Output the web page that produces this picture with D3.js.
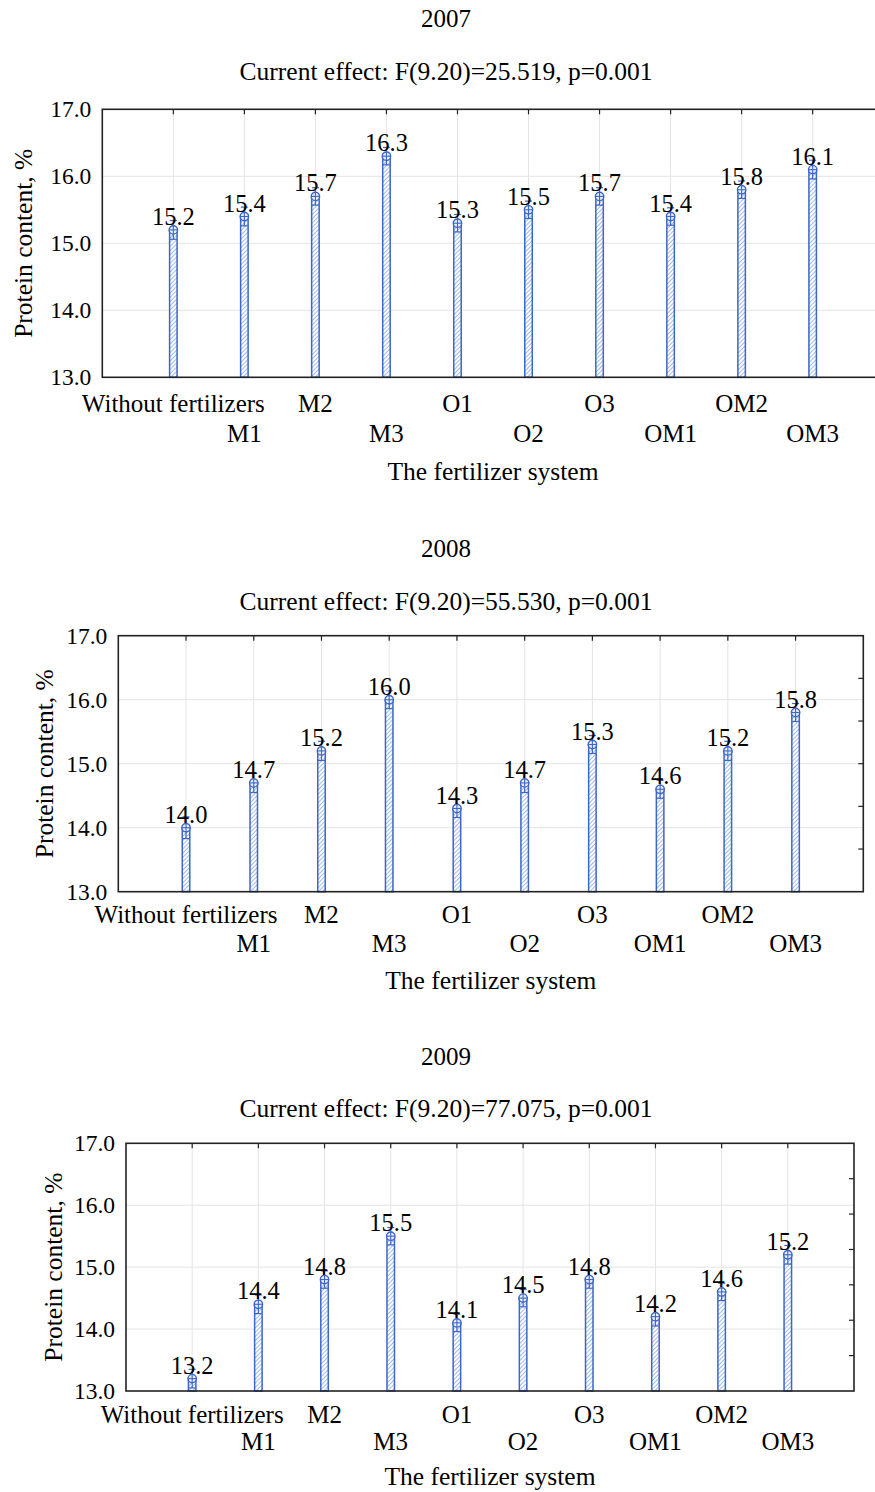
<!DOCTYPE html>
<html>
<head>
<meta charset="utf-8">
<script src="https://cdn.jsdelivr.net/npm/d3@7"></script>
<style>
  body { margin: 0; background: #fff; }
  svg { display: block; }
  svg text { font-family: "Liberation Serif", "Times New Roman", "DejaVu Serif", serif; fill: #000; }
</style>
</head>
<body>
<svg id="chart" width="875" height="1492"></svg>
<script>
// data
var years = ['2007', '2008', '2009'];
var subtitles = [
  'Current effect: F(9.20)=25.519, p=0.001',
  'Current effect: F(9.20)=55.530, p=0.001',
  'Current effect: F(9.20)=77.075, p=0.001'
];
var categories = ['Without fertilizers', 'M1', 'M2', 'M3', 'O1', 'O2', 'O3', 'OM1', 'OM2', 'OM3'];
var protein2007 = [15.2, 15.4, 15.7, 16.3, 15.3, 15.5, 15.7, 15.4, 15.8, 16.1];
var protein2008 = [14.0, 14.7, 15.2, 16.0, 14.3, 14.7, 15.3, 14.6, 15.2, 15.8];
var protein2009 = [13.2, 14.4, 14.8, 15.5, 14.1, 14.5, 14.8, 14.2, 14.6, 15.2];
var err2007 = [0.14, 0.14, 0.13, 0.13, 0.13, 0.13, 0.13, 0.13, 0.13, 0.14];
var err2008 = [0.17, 0.15, 0.15, 0.14, 0.14, 0.15, 0.14, 0.14, 0.15, 0.14];
var err2009 = [0.15, 0.15, 0.14, 0.14, 0.14, 0.14, 0.14, 0.15, 0.14, 0.15];
var yTicks = [13, 14, 15, 16, 17];

var series = [protein2007, protein2008, protein2009];
var errors = [err2007, err2008, err2009];

// panel layout
var panels = [
  { left: 102.3, right: 883.7, top: 109.3, bottom: 377.3, titleY: 27, subY: 80, yTitleX: 23, row1: 411.5, row2: 441.5, xTitleY: 480, rightDiv: 0 },
  { left: 118.3, right: 863.3, top: 635.7, bottom: 891.7, titleY: 557, subY: 610, yTitleX: 44, row1: 923, row2: 952, xTitleY: 989, rightDiv: 6 },
  { left: 126, right: 854, top: 1143.3, bottom: 1391, titleY: 1065, subY: 1117, yTitleX: 53.5, row1: 1423, row2: 1450, xTitleY: 1485, rightDiv: 7 }
];

var blue = '#3d66c6';
var svg = d3.select('#chart');

var defs = svg.append('defs');
var pat = defs.append('pattern')
  .attr('id', 'hatch')
  .attr('patternUnits', 'userSpaceOnUse')
  .attr('width', 3)
  .attr('height', 3)
  .attr('patternTransform', 'rotate(45)');
pat.append('rect').attr('width', 3).attr('height', 3).attr('fill', '#ffffff');
pat.append('line').attr('x1', 0).attr('y1', 0).attr('x2', 0).attr('y2', 3)
  .attr('stroke', '#86a8e4').attr('stroke-width', 1.6);

panels.forEach(function(p, k) {
  var values = series[k];
  var errs = errors[k];
  var g = svg.append('g');

  var x = d3.scaleLinear().domain([-1, 10]).range([p.left, p.right]);
  var y = d3.scaleLinear().domain([13, 17]).range([p.bottom, p.top]);

  // titles
  g.append('text').attr('x', 446).attr('y', p.titleY).attr('text-anchor', 'middle')
    .style('font-size', '25px').text(years[k]);
  g.append('text').attr('x', 446).attr('y', p.subY).attr('text-anchor', 'middle')
    .style('font-size', '25.5px').text(subtitles[k]);

  // grid
  g.selectAll('.hgrid').data(yTicks.slice(1, -1)).enter().append('line')
    .attr('x1', p.left).attr('x2', p.right)
    .attr('y1', d => y(d)).attr('y2', d => y(d))
    .attr('stroke', '#e4e4e4').attr('stroke-width', 1);
  g.selectAll('.vgrid').data(categories).enter().append('line')
    .attr('x1', (d, i) => x(i)).attr('x2', (d, i) => x(i))
    .attr('y1', p.top).attr('y2', p.bottom)
    .attr('stroke', '#e4e4e4').attr('stroke-width', 1);

  // top ticks (inward)
  g.selectAll('.ttick').data(categories).enter().append('line')
    .attr('x1', (d, i) => x(i)).attr('x2', (d, i) => x(i))
    .attr('y1', p.top).attr('y2', p.top + 5)
    .attr('stroke', '#222').attr('stroke-width', 1.2);

  // right ticks (inward)
  if (p.rightDiv > 0) {
    var rt = d3.range(1, p.rightDiv).map(j => 13 + j * 4 / p.rightDiv);
    g.selectAll('.rtick').data(rt).enter().append('line')
      .attr('x1', p.right).attr('x2', p.right - 5)
      .attr('y1', d => y(d)).attr('y2', d => y(d))
      .attr('stroke', '#222').attr('stroke-width', 1.2);
  }

  // y axis labels
  var yAxis = d3.axisLeft(y).tickValues(yTicks).tickSize(0).tickPadding(11)
    .tickFormat(d3.format('.1f'));
  var ya = g.append('g').attr('transform', `translate(${p.left},0)`).call(yAxis);
  ya.attr('font-family', null);
  ya.select('.domain').remove();
  ya.selectAll('text').style('font-size', '23.5px').attr('fill', '#000');

  g.append('text')
    .attr('transform', `translate(${p.yTitleX},${(p.top + p.bottom) / 2}) rotate(-90)`)
    .attr('text-anchor', 'middle').attr('dy', '0.35em')
    .style('font-size', '25.5px').text('Protein content, %');

  // bars
  var bw = 7.5;
  g.selectAll('.bar').data(values).enter().append('rect')
    .attr('x', (d, i) => x(i) - bw / 2)
    .attr('y', d => y(d))
    .attr('width', bw)
    .attr('height', d => y(13) - y(d))
    .attr('fill', 'url(#hatch)')
    .attr('stroke', blue).attr('stroke-width', 1.5);

  // error whiskers
  g.selectAll('.whisk').data(values).enter().append('line')
    .attr('x1', (d, i) => x(i)).attr('x2', (d, i) => x(i))
    .attr('y1', (d, i) => y(d + errs[i])).attr('y2', (d, i) => y(d - errs[i]))
    .attr('stroke', blue).attr('stroke-width', 1.2);
  [1, -1].forEach(function(s) {
    g.selectAll('.cap').data(values).enter().append('line')
      .attr('x1', (d, i) => x(i) - 3.5).attr('x2', (d, i) => x(i) + 3.5)
      .attr('y1', (d, i) => y(d + s * errs[i])).attr('y2', (d, i) => y(d + s * errs[i]))
      .attr('stroke', blue).attr('stroke-width', 1.2);
  });

  // markers
  g.selectAll('.mark').data(values).enter().append('circle')
    .attr('cx', (d, i) => x(i)).attr('cy', d => y(d)).attr('r', 4.2)
    .attr('fill', '#e8eefa').attr('stroke', blue).attr('stroke-width', 1.4);
  g.selectAll('.mh').data(values).enter().append('line')
    .attr('x1', (d, i) => x(i) - 4.2).attr('x2', (d, i) => x(i) + 4.2)
    .attr('y1', d => y(d)).attr('y2', d => y(d))
    .attr('stroke', blue).attr('stroke-width', 1.1);
  g.selectAll('.mv').data(values).enter().append('line')
    .attr('x1', (d, i) => x(i)).attr('x2', (d, i) => x(i))
    .attr('y1', d => y(d) - 4.2).attr('y2', d => y(d) + 4.2)
    .attr('stroke', blue).attr('stroke-width', 1.1);

  // value labels
  g.selectAll('.val').data(values).enter().append('text')
    .attr('x', (d, i) => x(i)).attr('y', d => y(d) - 5)
    .attr('text-anchor', 'middle').style('font-size', '24.5px')
    .text(d => d3.format('.1f')(d));

  // frame
  g.append('rect')
    .attr('x', p.left).attr('y', p.top)
    .attr('width', p.right - p.left).attr('height', p.bottom - p.top)
    .attr('fill', 'none').attr('stroke', '#222').attr('stroke-width', 1.6);

  // category labels, staggered in two rows
  g.selectAll('.cat').data(categories).enter().append('text')
    .attr('x', (d, i) => x(i))
    .attr('y', (d, i) => i % 2 === 0 ? p.row1 : p.row2)
    .attr('text-anchor', 'middle').style('font-size', '25px')
    .text(d => d);

  g.append('text')
    .attr('x', (p.left + p.right) / 2).attr('y', p.xTitleY)
    .attr('text-anchor', 'middle').style('font-size', '25.5px')
    .text('The fertilizer system');
});
</script>
</body>
</html>
